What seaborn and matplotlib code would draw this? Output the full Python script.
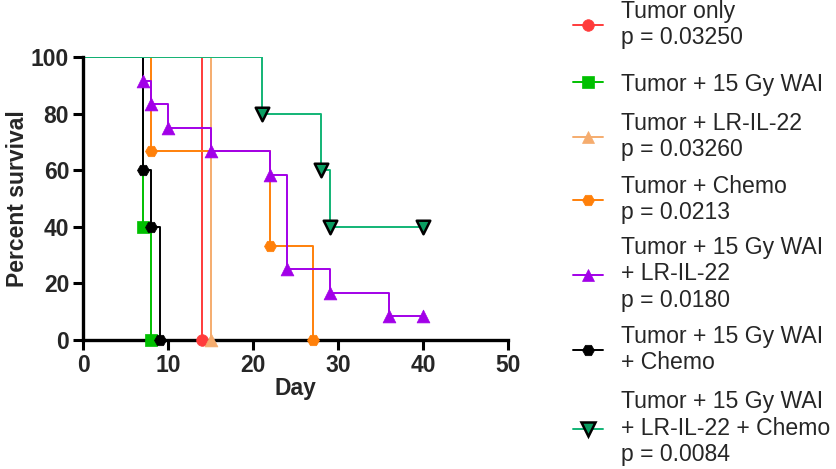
import numpy as np
import pandas as pd
import seaborn as sns
import matplotlib
matplotlib.use("Agg")
import matplotlib.pyplot as plt
from matplotlib.lines import Line2D

sns.set_style("white")
plt.rcParams['font.family'] = ['Liberation Sans', 'DejaVu Sans']

# ---------------- data ----------------
groups = [
    "Tumor only\np = 0.03250",
    "Tumor + 15 Gy WAI",
    "Tumor + LR-IL-22\np = 0.03260",
    "Tumor + Chemo\np = 0.0213",
    "Tumor + 15 Gy WAI\n+ LR-IL-22\np = 0.0180",
    "Tumor + 15 Gy WAI\n+ Chemo",
    "Tumor + 15 Gy WAI\n+ LR-IL-22 + Chemo\np = 0.0084",
]
days_tumor = [0, 14]
surv_tumor = [100, 0]
days_wai = [0, 7, 8]
surv_wai = [100, 40, 0]
days_il22 = [0, 15]
surv_il22 = [100, 0]
days_chemo = [0, 8, 22, 27]
surv_chemo = [100, 66.7, 33.3, 0]
days_wai_il22 = [0, 7, 8, 10, 15, 22, 24, 29, 36, 40]
surv_wai_il22 = [100, 91.7, 83.3, 75, 66.7, 58.3, 25, 16.7, 8.3, 8.3]
days_wai_chemo = [0, 7, 8, 9]
surv_wai_chemo = [100, 60, 40, 0]
days_all = [0, 21, 28, 29, 40]
surv_all = [100, 80, 60, 40, 40]

day_lists = [days_tumor, days_wai, days_il22, days_chemo, days_wai_il22, days_wai_chemo, days_all]
surv_lists = [surv_tumor, surv_wai, surv_il22, surv_chemo, surv_wai_il22, surv_wai_chemo, surv_all]

colors = ["#FF3B3B", "#00C000", "#F5AC6E", "#FF800A", "#A200E8", "#000000", "#12B476"]
marker_fill = ["#FF3B3B", "#00C000", "#F5AC6E", "#FF800A", "#A200E8", "#000000", "#0A9E62"]
marker_edge = ["#FF3B3B", "#00C000", "#F5AC6E", "#FF800A", "#A200E8", "#000000", "#000000"]
markers = ["o", "s", "^", "H", "^", "H", "v"]
msizes = [70, 70, 85, 75, 85, 75, 95]
medgew = [0.5, 0.5, 0.5, 0.5, 0.5, 0.5, 1.8]

# vertical centre of each legend entry (figure pixels from top)
legend_y_px = [24.5, 84, 136.5, 199.5, 274, 349.5, 428]

rows = []
for g, d, s in zip(groups, day_lists, surv_lists):
    for di, si in zip(d, s):
        rows.append({"group": g, "day": di, "survival": si})
df = pd.DataFrame(rows)

# ---------------- figure ----------------
W, H = 836, 469
fig = plt.figure(figsize=(W / 100, H / 100), dpi=100)
ax = fig.add_axes([0.0993, 0.2755, 0.5084, 0.6023])

sns.lineplot(data=df, x="day", y="survival", hue="group", hue_order=groups,
             palette=dict(zip(groups, colors)), estimator=None, sort=True,
             drawstyle="steps-post", linewidth=1.4, legend=False, ax=ax)

for i, g in enumerate(groups):
    sub = df[(df["group"] == g) & (df["day"] > 0)]
    sns.scatterplot(data=sub, x="day", y="survival", color=marker_fill[i],
                    marker=markers[i], s=msizes[i], edgecolor=marker_edge[i],
                    linewidth=medgew[i], ax=ax, zorder=5, clip_on=False, legend=False)

ax.set_xlim(0, 50)
ax.set_ylim(0, 100)
ax.set_xticks([0, 10, 20, 30, 40, 50])
ax.set_yticks([0, 20, 40, 60, 80, 100])
ax.tick_params(axis="both", which="major", labelsize=16.5, length=7, width=2.2,
               direction="out", color="black", pad=3, bottom=True, left=True)
for lab in ax.get_xticklabels() + ax.get_yticklabels():
    lab.set_fontweight("bold")
for side in ["top", "right"]:
    ax.spines[side].set_visible(False)
for side in ["left", "bottom"]:
    ax.spines[side].set_linewidth(2.4)
    ax.spines[side].set_color("black")
ax.set_xlabel("Day", fontsize=16.5, fontweight="bold", labelpad=0)
ax.set_ylabel("Percent survival", fontsize=16.5, fontweight="bold", labelpad=1)

for i, g in enumerate(groups):
    h = Line2D([0], [0], color=colors[i], lw=1.4, marker=markers[i],
               markersize=np.sqrt(msizes[i]), markerfacecolor=marker_fill[i],
               markeredgecolor=marker_edge[i], markeredgewidth=medgew[i])
    leg = fig.legend([h], [g], loc="center left",
                     bbox_to_anchor=(0.685, 1 - legend_y_px[i] / H),
                     frameon=False, fontsize=16.6, handlelength=1.3,
                     handletextpad=0.8, borderpad=0, borderaxespad=0)
    for t in leg.get_texts():
        t.set_linespacing(1.19)

fig.savefig("out.png", dpi=100)
